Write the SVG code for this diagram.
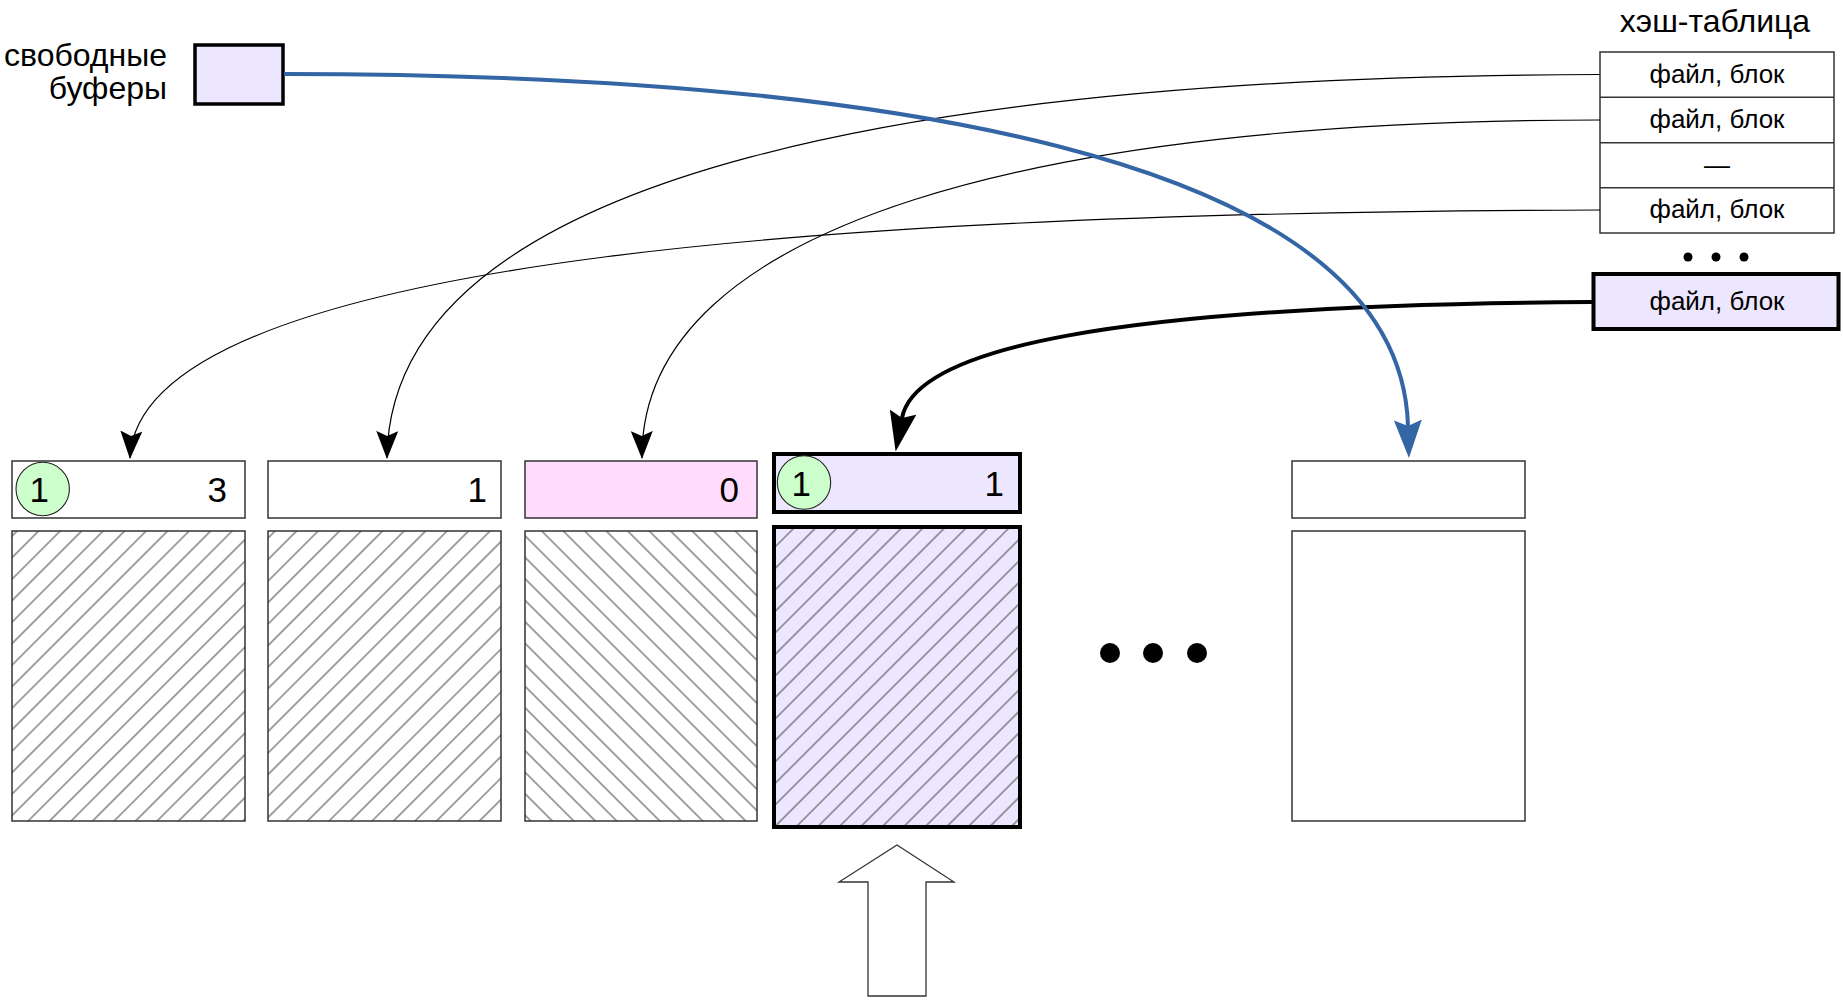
<svg xmlns="http://www.w3.org/2000/svg" width="1843" height="1001" viewBox="0 0 1843 1001">
<style>
text{font-family:"Liberation Sans",Arial,sans-serif;fill:#000}
.box{stroke:#333;stroke-width:1.5}
.bold{stroke:#000;stroke-width:4}
.num{font-size:35px;text-anchor:end}
.cnum{font-size:35px}
.cell{font-size:26px;text-anchor:middle}
.circ{fill:#ccffcc;stroke:#222;stroke-width:1.1}
.thin{fill:none;stroke:#000;stroke-width:1.2}
</style>
<defs>
<pattern id="hatchR" patternUnits="userSpaceOnUse" width="15.2" height="15.2" patternTransform="rotate(45)"><line x1="7.6" y1="-1" x2="7.6" y2="16.2" stroke="#555" stroke-width="1.1"/></pattern>
<pattern id="hatchL" patternUnits="userSpaceOnUse" width="15.2" height="15.2" patternTransform="rotate(-45)"><line x1="7.6" y1="-1" x2="7.6" y2="16.2" stroke="#555" stroke-width="1.1"/></pattern>
<marker id="aThin" markerUnits="userSpaceOnUse" markerWidth="28" markerHeight="22" viewBox="0 0 28 22" refX="27" refY="11" orient="auto"><path d="M0,0 L28,11 L0,22 L5,11 Z" fill="#000"/></marker>
<marker id="aThick" markerUnits="userSpaceOnUse" markerWidth="40" markerHeight="27" viewBox="0 0 40 27" refX="6" refY="13.5" orient="auto"><path d="M0,0 L40,13.5 L0,27 L6,13.5 Z" fill="#000"/></marker>
<marker id="aBlue" markerUnits="userSpaceOnUse" markerWidth="38" markerHeight="28" viewBox="0 0 38 28" refX="6" refY="14" orient="auto"><path d="M0,0 L38,14 L0,28 L6,14 Z" fill="#3465a4"/></marker>
</defs>
<rect width="1843" height="1001" fill="#fff"/>

<g id="free-buffers">
<text x="167" y="66" font-size="32" text-anchor="end">свободные</text>
<text x="167" y="99" font-size="32" text-anchor="end">буферы</text>
<rect x="195" y="45" width="88" height="59" fill="#ede6ff" stroke="#000" stroke-width="3.5"/>
</g>

<g id="hash-table">
<text x="1715" y="32" font-size="32" text-anchor="middle">хэш-таблица</text>
<rect x="1600" y="52" width="234" height="181" fill="#fff" class="box" stroke-width="1.3"/>
<line x1="1600" y1="97.3" x2="1834" y2="97.3" class="box" stroke-width="1.3"/>
<line x1="1600" y1="142.7" x2="1834" y2="142.7" class="box" stroke-width="1.3"/>
<line x1="1600" y1="187.7" x2="1834" y2="187.7" class="box" stroke-width="1.3"/>
<text x="1717" y="83" class="cell">файл, блок</text>
<text x="1717" y="128" class="cell">файл, блок</text>
<text x="1717" y="174" class="cell">—</text>
<text x="1717" y="218" class="cell">файл, блок</text>
<circle cx="1688" cy="257" r="4.5"/>
<circle cx="1716" cy="257" r="4.5"/>
<circle cx="1744" cy="257" r="4.5"/>
</g>

<g id="hash-entry-active">
<rect x="1593.5" y="274" width="245" height="55" fill="#ede6ff" class="bold"/>
<text x="1717" y="310" class="cell">файл, блок</text>
</g>

<g id="buffer-1">
<rect x="12" y="461" width="233" height="57" fill="#fff" class="box"/>
<circle cx="42.7" cy="489" r="26.7" class="circ"/>
<text x="29.5" y="502" class="cnum">1</text>
<text x="227" y="502" class="num">3</text>
<rect x="12" y="531" width="233" height="290" fill="url(#hatchR)" class="box"/>
</g>

<g id="buffer-2">
<rect x="268" y="461" width="233" height="57" fill="#fff" class="box"/>
<text x="487" y="502" class="num">1</text>
<rect x="268" y="531" width="233" height="290" fill="url(#hatchR)" class="box"/>
</g>

<g id="buffer-3">
<rect x="525" y="461" width="232" height="57" fill="#ffdcfc" class="box"/>
<text x="739" y="502" class="num">0</text>
<rect x="525" y="531" width="232" height="290" fill="url(#hatchL)" class="box"/>
</g>

<g id="buffer-4">
<rect x="774" y="454" width="246" height="58" fill="#ede6ff" class="bold"/>
<circle cx="804" cy="482.5" r="26.7" class="circ"/>
<text x="791.6" y="496" class="cnum">1</text>
<text x="1004" y="496" class="num">1</text>
<rect x="774" y="527" width="246" height="300" fill="#ede6ff" stroke="none"/>
<rect x="774" y="527" width="246" height="300" fill="url(#hatchR)" class="bold"/>
</g>

<g id="ellipsis">
<circle cx="1110" cy="653" r="10"/>
<circle cx="1153" cy="653" r="10"/>
<circle cx="1197" cy="653" r="10"/>
</g>

<g id="buffer-5">
<rect x="1292" y="461" width="233" height="57" fill="#fff" class="box"/>
<rect x="1292" y="531" width="233" height="290" fill="#fff" class="box"/>
</g>

<g id="block-arrow">
<polygon points="897,845 954,882 926,882 926,996 868,996 868,882 839,882" fill="#fff" stroke="#333" stroke-width="1.3"/>
</g>

<g id="connectors">
<path class="thin" d="M1600,210 C900,212 140,250 130,458" marker-end="url(#aThin)"/>
<path class="thin" d="M1600,74.5 C950,76 390,165 387,458" marker-end="url(#aThin)"/>
<path class="thin" d="M1600,120 C1050,120 640,220 642,458" marker-end="url(#aThin)"/>
<path d="M1592,302 C1100,305 915,350 902,418" fill="none" stroke="#000" stroke-width="4" marker-end="url(#aThick)"/>
<path d="M284,74 C860,74 1400,150 1408,426" fill="none" stroke="#3465a4" stroke-width="4" marker-end="url(#aBlue)"/>
</g>
</svg>
